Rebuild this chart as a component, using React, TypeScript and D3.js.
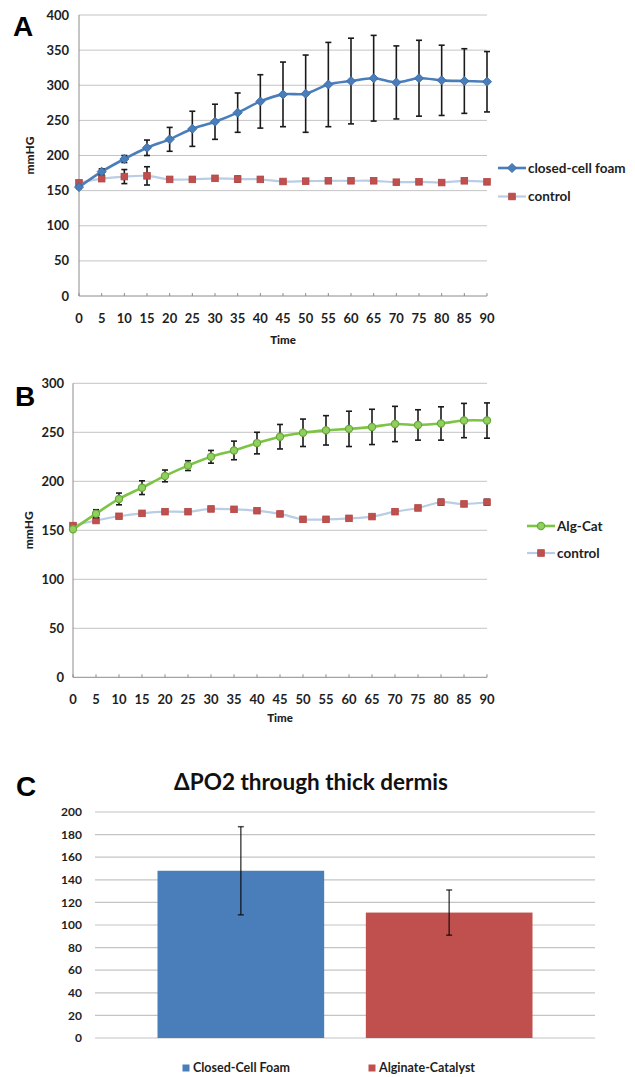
import React from "react";
import * as d3 from "d3";

// ---------- DATA ----------
const timePoints = [0, 5, 10, 15, 20, 25, 30, 35, 40, 45, 50, 55, 60, 65, 70, 75, 80, 85, 90];

// Panel A
const foamMean = [155, 177, 195, 211, 223, 238, 248, 261, 277, 287, 288, 301, 306, 310, 304, 310, 307, 306, 305];
const foamErr = [2, 4, 5, 11, 17, 25, 25, 28, 38, 46, 55, 60, 61, 61, 52, 54, 50, 46, 43];
const controlAMean = [161, 167, 170, 171, 166, 166, 167.5, 166.5, 166, 163, 163.5, 164, 164, 164, 162, 162.5, 161.5, 164, 162.5];
const controlAErr = [0, 0, 10, 13, 0, 0, 0, 4, 0, 0, 0, 0, 0, 0, 0, 0, 0, 0, 0];
const yTicksA = [0, 50, 100, 150, 200, 250, 300, 350, 400];

// Panel B
const algCatMean = [151, 167, 182, 193.5, 205.5, 216, 225, 231.5, 239, 245.5, 249.5, 252, 253.5, 255.5, 258.5, 257.5, 259, 262, 262];
const algCatErr = [0, 4, 6, 7, 6, 5, 6.5, 9.5, 11, 12.5, 14, 15, 18, 18, 18, 15.5, 17, 17.5, 18];
const controlBMean = [154.8, 160, 164.3, 167.3, 169, 169, 171.8, 171.4, 170, 166.7, 161.2, 161.2, 162.2, 164, 169, 172.8, 178.6, 176.9, 178.6];
const controlBErr = [0, 0, 0, 0, 0, 0, 0, 0, 0, 2, 0, 0, 0, 0, 0, 0, 3, 0, 3];
const yTicksB = [0, 50, 100, 150, 200, 250, 300];

// Panel C
const barCategories = ["Closed-Cell Foam", "Alginate-Catalyst"];
const barMeans = [148, 111];
const barErrs = [39, 20];
const yTicksC = [0, 20, 40, 60, 80, 100, 120, 140, 160, 180, 200];

// ---------- STYLE ----------
const FONT = "Lato, 'Liberation Sans', Arial, sans-serif";
const BLUE = "#4a7ebb";
const RED = "#c0504d";
const LIGHTBLUE = "#b9cde5";
const GREEN = "#7cc444";
const GRID = "#c4c4c4";
const AXIS = "#8c8c8c";
const TEXT = "#1e1e1e";

type Series = {
  name: string;
  mean: number[];
  err: number[];
  line: string;
  lineWidth: number;
  marker: "diamond" | "square" | "circle";
  markerFill: string;
  markerStroke: string;
};

function Marker({ kind, x, y, fill, stroke }: { kind: string; x: number; y: number; fill: string; stroke: string }) {
  if (kind === "diamond") {
    const s = 4.5;
    return <path d={`M${x},${y - s}L${x + s},${y}L${x},${y + s}L${x - s},${y}Z`} fill={fill} stroke={stroke} strokeWidth={1} />;
  }
  if (kind === "square") {
    const s = 3.3;
    return <rect x={x - s} y={y - s} width={2 * s} height={2 * s} fill={fill} stroke={stroke} strokeWidth={0.8} />;
  }
  return <circle cx={x} cy={y} r={3.6} fill={fill} stroke={stroke} strokeWidth={1.2} />;
}

function LinePanel(props: {
  letter: string;
  letterX: number;
  letterY: number;
  left: number;
  right: number;
  top: number;
  bottom: number;
  yMax: number;
  yTicks: number[];
  series: Series[];
  legendX: number;
  legendY: number;
  legendGap: number;
  yTitleX: number;
  yLabelX: number;
  xLabelY: number;
  xTitleY: number;
}) {
  const x = d3.scaleLinear().domain([0, 90]).range([props.left, props.right]);
  const y = d3.scaleLinear().domain([0, props.yMax]).range([props.bottom, props.top]);
  const line = d3
    .line<number>()
    .x((_, i) => x(timePoints[i]))
    .y((d) => y(d))
    .curve(d3.curveCardinal.tension(0));
  const midY = (props.top + props.bottom) / 2;
  return (
    <g>
      <text x={props.letterX} y={props.letterY} fontFamily="'Liberation Sans', Arial, sans-serif" fontWeight="bold" fontSize={28} fill="#000">
        {props.letter}
      </text>
      {props.yTicks.map((t) => (
        <g key={t}>
          {t > 0 && <line x1={props.left} x2={props.right} y1={y(t)} y2={y(t)} stroke={GRID} strokeWidth={1} />}
          <text x={props.yLabelX} y={y(t)} dy="0.35em" textAnchor="end" fontFamily={FONT} fontWeight="bold" fontSize={13} fill={TEXT}>
            {t}
          </text>
        </g>
      ))}
      <line x1={props.left} x2={props.left} y1={props.top} y2={props.bottom} stroke={AXIS} strokeWidth={1} />
      <line x1={props.left} x2={props.right} y1={props.bottom} y2={props.bottom} stroke={AXIS} strokeWidth={1} />
      {timePoints.map((t) => (
        <g key={t}>
          <line x1={x(t)} x2={x(t)} y1={props.bottom} y2={props.bottom - 3} stroke={AXIS} strokeWidth={1} />
          <text x={x(t)} y={props.xLabelY} dy="0.35em" textAnchor="middle" fontFamily={FONT} fontWeight="bold" fontSize={13} fill={TEXT}>
            {t}
          </text>
        </g>
      ))}
      <text
        transform={`translate(${props.yTitleX},${midY}) rotate(-90)`}
        textAnchor="middle"
        dy="0.35em"
        fontFamily={FONT}
        fontWeight="900"
        fontSize={12}
        fill={TEXT}
      >
        mmHG
      </text>
      <text x={(props.left + props.right) / 2} y={props.xTitleY} dy="0.35em" textAnchor="middle" fontFamily={FONT} fontWeight="900" fontSize={11.5} fill={TEXT}>
        Time
      </text>
      {props.series
        .slice()
        .reverse()
        .map((s) => (
          <g key={s.name}>
            <path d={line(s.mean) || ""} fill="none" stroke={s.line} strokeWidth={s.lineWidth} strokeLinejoin="round" />
            {s.mean.map((m, i) =>
              s.err[i] > 0 ? (
                <g key={i} stroke="#1a1a1a" strokeWidth={1.6}>
                  <line x1={x(timePoints[i])} x2={x(timePoints[i])} y1={y(m - s.err[i])} y2={y(m + s.err[i])} />
                  <line x1={x(timePoints[i]) - 3} x2={x(timePoints[i]) + 3} y1={y(m - s.err[i])} y2={y(m - s.err[i])} />
                  <line x1={x(timePoints[i]) - 3} x2={x(timePoints[i]) + 3} y1={y(m + s.err[i])} y2={y(m + s.err[i])} />
                </g>
              ) : null
            )}
            {s.mean.map((m, i) => (
              <Marker key={i} kind={s.marker} x={x(timePoints[i])} y={y(m)} fill={s.markerFill} stroke={s.markerStroke} />
            ))}
          </g>
        ))}
      {props.series.map((s, i) => {
        const ly = props.legendY + i * props.legendGap;
        return (
          <g key={s.name}>
            <line x1={props.legendX} x2={props.legendX + 28} y1={ly} y2={ly} stroke={s.line} strokeWidth={s.lineWidth} />
            <Marker kind={s.marker} x={props.legendX + 14} y={ly} fill={s.markerFill} stroke={s.markerStroke} />
            <text x={props.legendX + 30} y={ly} dy="0.35em" fontFamily={FONT} fontWeight="bold" fontSize={13.5} fill={TEXT}>
              {s.name}
            </text>
          </g>
        );
      })}
    </g>
  );
}

function BarPanel() {
  const left = 95;
  const right = 595;
  const top = 812;
  const bottom = 1038;
  const x = d3.scaleBand<string>().domain(barCategories).range([left, right]).paddingInner(0.2).paddingOuter(0.3);
  const y = d3.scaleLinear().domain([0, 200]).range([bottom, top]);
  const colors = [BLUE, RED];
  const legendXs = [186, 372];
  return (
    <g>
      <text x={16} y={796} fontFamily="'Liberation Sans', Arial, sans-serif" fontWeight="bold" fontSize={28} fill="#000">
        C
      </text>
      <text x={311} y={790} textAnchor="middle" fontFamily={FONT} fontWeight="bold" fontSize={22.5} fill="#111">
        ΔPO2 through thick dermis
      </text>
      {yTicksC.map((t) => (
        <g key={t}>
          <line x1={left} x2={right} y1={y(t)} y2={y(t)} stroke={GRID} strokeWidth={1.2} />
          <text x={82} y={y(t)} dy="0.35em" textAnchor="end" fontFamily={FONT} fontWeight="bold" fontSize={12} fill={TEXT}>
            {t}
          </text>
        </g>
      ))}
      {barCategories.map((c, i) => {
        const bx = x(c) as number;
        const cx = bx + x.bandwidth() / 2;
        return (
          <g key={c}>
            <rect x={bx} y={y(barMeans[i])} width={x.bandwidth()} height={y(0) - y(barMeans[i])} fill={colors[i]} />
            <g stroke="#000" strokeOpacity={0.7} strokeWidth={1.5}>
              <line x1={cx} x2={cx} y1={y(barMeans[i] - barErrs[i])} y2={y(barMeans[i] + barErrs[i])} />
              <line x1={cx - 3} x2={cx + 3} y1={y(barMeans[i] - barErrs[i])} y2={y(barMeans[i] - barErrs[i])} />
              <line x1={cx - 3} x2={cx + 3} y1={y(barMeans[i] + barErrs[i])} y2={y(barMeans[i] + barErrs[i])} />
            </g>
          </g>
        );
      })}
      {barCategories.map((c, i) => (
        <g key={c}>
          <rect x={legendXs[i] - 3.5} y={1064.5} width={7} height={7} fill={colors[i]} />
          <text x={legendXs[i] + 7} y={1068} dy="0.35em" fontFamily={FONT} fontWeight="bold" fontSize={12.5} fill={TEXT}>
            {c}
          </text>
        </g>
      ))}
    </g>
  );
}

export default function App() {
  const seriesA: Series[] = [
    { name: "closed-cell foam", mean: foamMean, err: foamErr, line: BLUE, lineWidth: 2.6, marker: "diamond", markerFill: BLUE, markerStroke: "#3d6ea8" },
    { name: "control", mean: controlAMean, err: controlAErr, line: LIGHTBLUE, lineWidth: 2.2, marker: "square", markerFill: RED, markerStroke: "#b04340" },
  ];
  const seriesB: Series[] = [
    { name: "Alg-Cat", mean: algCatMean, err: algCatErr, line: GREEN, lineWidth: 2.6, marker: "circle", markerFill: "#8fd061", markerStroke: "#6aa83a" },
    { name: "control", mean: controlBMean, err: controlBErr, line: LIGHTBLUE, lineWidth: 2.2, marker: "square", markerFill: RED, markerStroke: "#b04340" },
  ];
  return (
    <svg width={635} height={1077} style={{ position: "absolute", left: 0, top: 0, background: "#fff" }}>
      <rect width={635} height={1077} fill="#fff" />
      <LinePanel
        letter="A"
        letterX={13}
        letterY={36}
        left={79}
        right={487}
        top={15}
        bottom={296}
        yMax={400}
        yTicks={yTicksA}
        series={seriesA}
        legendX={498}
        legendY={168}
        legendGap={28.5}
        yTitleX={30}
        yLabelX={69}
        xLabelY={318}
        xTitleY={340}
      />
      <LinePanel
        letter="B"
        letterX={15}
        letterY={406}
        left={73}
        right={487}
        top={383.3}
        bottom={677.3}
        yMax={300}
        yTicks={yTicksB}
        series={seriesB}
        legendX={527}
        legendY={526}
        legendGap={27}
        yTitleX={29}
        yLabelX={64}
        xLabelY={699}
        xTitleY={718}
      />
      <BarPanel />
    </svg>
  );
}
